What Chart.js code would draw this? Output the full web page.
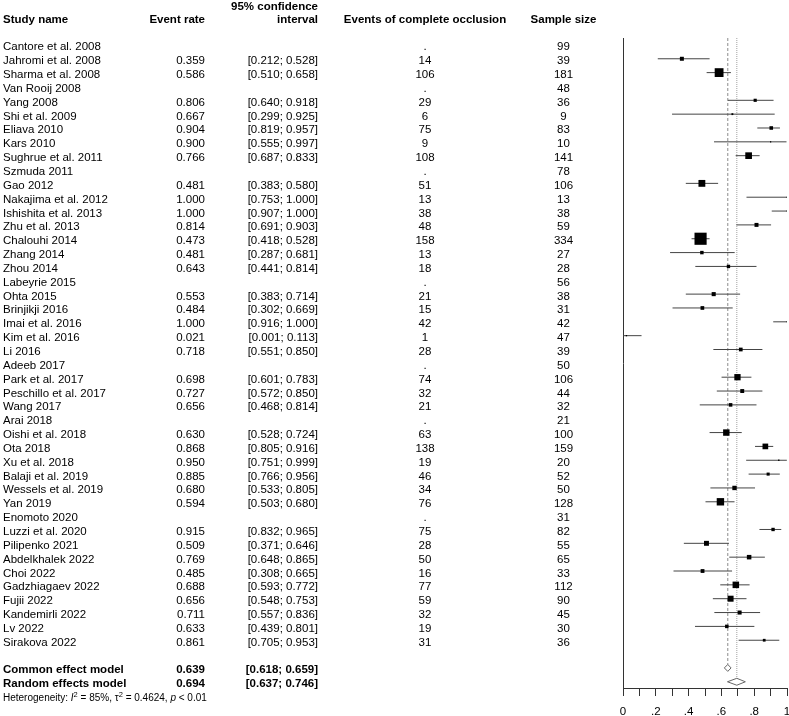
<!DOCTYPE html>
<html>
<head>
<meta charset="utf-8">
<title>Forest plot</title>
<script src="https://cdn.jsdelivr.net/npm/chart.js@4"></script>
<style>
  body { margin: 0; background: #fff; }
  #caixa { width: 789px; height: 716px; }
</style>
</head>
<body>
<div id="caixa"><canvas id="grafico" width="789" height="716"></canvas></div>
<script>
// Dados
const estudos = ['Cantore et al. 2008', 'Jahromi et al. 2008', 'Sharma et al. 2008', 'Van Rooij 2008', 'Yang 2008',
    'Shi et al. 2009', 'Eliava 2010', 'Kars 2010', 'Sughrue et al. 2011', 'Szmuda 2011', 'Gao 2012',
    'Nakajima et al. 2012', 'Ishishita et al. 2013', 'Zhu et al. 2013', 'Chalouhi 2014', 'Zhang 2014', 'Zhou 2014',
    'Labeyrie 2015', 'Ohta 2015', 'Brinjikji 2016', 'Imai et al. 2016', 'Kim et al. 2016', 'Li 2016', 'Adeeb 2017',
    'Park et al. 2017', 'Peschillo et al. 2017', 'Wang 2017', 'Arai 2018', 'Oishi et al. 2018', 'Ota 2018',
    'Xu et al. 2018', 'Balaji et al. 2019', 'Wessels et al. 2019', 'Yan 2019', 'Enomoto 2020', 'Luzzi et al. 2020',
    'Pilipenko 2021', 'Abdelkhalek 2022', 'Choi 2022', 'Gadzhiagaev 2022', 'Fujii 2022', 'Kandemirli 2022',
    'Lv 2022', 'Sirakova 2022'];
const taxas = [null, 0.359, 0.586, null, 0.806, 0.667, 0.904, 0.900, 0.766, null, 0.481, 1.000, 1.000, 0.814,
    0.473, 0.481, 0.643, null, 0.553, 0.484, 1.000, 0.021, 0.718, null, 0.698, 0.727, 0.656, null, 0.630, 0.868,
    0.950, 0.885, 0.680, 0.594, null, 0.915, 0.509, 0.769, 0.485, 0.688, 0.656, 0.711, 0.633, 0.861];
const icInf = [null, 0.212, 0.510, null, 0.640, 0.299, 0.819, 0.555, 0.687, null, 0.383, 0.753, 0.907, 0.691,
    0.418, 0.287, 0.441, null, 0.383, 0.302, 0.916, 0.001, 0.551, null, 0.601, 0.572, 0.468, null, 0.528, 0.805,
    0.751, 0.766, 0.533, 0.503, null, 0.832, 0.371, 0.648, 0.308, 0.593, 0.548, 0.557, 0.439, 0.705];
const icSup = [null, 0.528, 0.658, null, 0.918, 0.925, 0.957, 0.997, 0.833, null, 0.580, 1.000, 1.000, 0.903,
    0.528, 0.681, 0.814, null, 0.714, 0.669, 1.000, 0.113, 0.850, null, 0.783, 0.850, 0.814, null, 0.724, 0.916,
    0.999, 0.956, 0.805, 0.680, null, 0.965, 0.646, 0.865, 0.665, 0.772, 0.753, 0.836, 0.801, 0.953];
const eventos = [null, 14, 106, null, 29, 6, 75, 9, 108, null, 51, 13, 38, 48, 158, 13, 18, null, 21, 15, 42, 1,
    28, null, 74, 32, 21, null, 63, 138, 19, 46, 34, 76, null, 75, 28, 50, 16, 77, 59, 32, 19, 31];
const amostras = [99, 39, 181, 48, 36, 9, 83, 10, 141, 78, 106, 13, 38, 59, 334, 27, 28, 56, 38, 31, 42, 47, 39,
    50, 106, 44, 32, 21, 100, 159, 20, 52, 50, 128, 31, 82, 55, 65, 33, 112, 90, 45, 30, 36];

const modelos = ['Common effect model', 'Random effects model'];
const taxasModelo = [0.639, 0.694];
const icInfModelo = [0.618, 0.637];
const icSupModelo = [0.659, 0.746];
const heterogeneidade = ['85%', '0.4624', '< 0.01'];
const rotulosX = ['0', '.2', '.4', '.6', '.8', '1'];

const fonte = '"Liberation Sans", Arial, sans-serif';
const linhaModelo = estudos.length + 1; // linha em branco antes dos modelos

// Peso (inverso da variância) só para o tamanho dos quadrados
function peso(i) {
    const e = eventos[i], n = amostras[i];
    if (e === 0 || e === n) return (e + 0.5) * (n - e + 0.5) / (n + 1);
    return e * (n - e) / n;
}

// Pontos e intervalos
const pontos = [];
const intervalos = [];
taxas.forEach((t, i) => {
    if (t === null) return;
    pontos.push({ x: t, y: i, lado: 1.33 * Math.sqrt(peso(i)) });
    intervalos.push({ x: icInf[i], y: i }, { x: icSup[i], y: i }, { x: null, y: i });
});

// Losangos dos modelos
function losango(k) {
    const r = linhaModelo + k, h = 0.25;
    return [
        { x: icInfModelo[k], y: r }, { x: taxasModelo[k], y: r - h },
        { x: icSupModelo[k], y: r }, { x: taxasModelo[k], y: r + h },
        { x: icInfModelo[k], y: r }
    ];
}

function fmt(v) { return v.toFixed(3); }

// Textos das colunas
const textos = {
    id: 'textos',
    afterDraw(chart) {
        const ctx = chart.ctx;
        const y = chart.scales.y;
        ctx.save();
        ctx.fillStyle = '#000';
        ctx.textBaseline = 'alphabetic';

        ctx.font = 'bold 11.5px ' + fonte;
        ctx.textAlign = 'left';
        ctx.fillText('Study name', 3, 22.5);
        ctx.textAlign = 'right';
        ctx.fillText('Event rate', 205, 22.5);
        ctx.fillText('95% confidence', 318, 9.5);
        ctx.fillText('interval', 318, 22.5);
        ctx.textAlign = 'center';
        ctx.fillText('Events of complete occlusion', 425, 22.5);
        ctx.fillText('Sample size', 563.5, 22.5);

        ctx.font = '11.5px ' + fonte;
        estudos.forEach((nome, i) => {
            const py = y.getPixelForValue(i) + 5.5;
            ctx.textAlign = 'left';
            ctx.fillText(nome, 3, py);
            ctx.textAlign = 'right';
            if (taxas[i] !== null) {
                ctx.fillText(fmt(taxas[i]), 205, py);
                ctx.fillText('[' + fmt(icInf[i]) + '; ' + fmt(icSup[i]) + ']', 318, py);
            }
            ctx.textAlign = 'center';
            ctx.fillText(eventos[i] === null ? '.' : String(eventos[i]), 425, py);
            ctx.fillText(String(amostras[i]), 563.5, py);
        });

        ctx.font = 'bold 11.5px ' + fonte;
        modelos.forEach((nome, k) => {
            const py = y.getPixelForValue(linhaModelo + k) + 5.5;
            ctx.textAlign = 'left';
            ctx.fillText(nome, 3, py);
            ctx.textAlign = 'right';
            ctx.fillText(fmt(taxasModelo[k]), 205, py);
            ctx.fillText('[' + fmt(icInfModelo[k]) + '; ' + fmt(icSupModelo[k]) + ']', 318, py);
        });

        // Heterogeneidade com sobrescritos
        const partes = [
            ['Heterogeneity: ', ''], ['I', 'italic'], ['2', 'sup'], [' = ' + heterogeneidade[0] + ', \u03c4', ''],
            ['2', 'sup'], [' = ' + heterogeneidade[1] + ', ', ''], ['p', 'italic'], [' ' + heterogeneidade[2], '']
        ];
        let px = 3;
        const base = 701;
        ctx.textAlign = 'left';
        partes.forEach(([txt, estilo]) => {
            let by = base;
            if (estilo === 'italic') ctx.font = 'italic 10px ' + fonte;
            else if (estilo === 'sup') { ctx.font = '7.5px ' + fonte; by = base - 4.5; }
            else ctx.font = '10px ' + fonte;
            ctx.fillText(txt, px, by);
            px += ctx.measureText(txt).width;
        });
        ctx.restore();
    }
};

const ctx = document.getElementById('grafico').getContext('2d');
const grafico = new Chart(ctx, {
    type: 'scatter',
    data: {
        datasets: [
            {
                data: losango(0), showLine: true, fill: 'shape', backgroundColor: '#fff',
                borderColor: '#666', borderWidth: 1, pointRadius: 0, order: 1
            },
            {
                data: losango(1), showLine: true, fill: 'shape', backgroundColor: '#fff',
                borderColor: '#666', borderWidth: 1, pointRadius: 0, order: 1
            },
            {
                data: pontos, pointStyle: 'rect', backgroundColor: '#000', borderWidth: 0,
                pointRadius: c => c.raw ? c.raw.lado / Math.SQRT2 : 0, order: 2
            },
            {
                data: intervalos, showLine: true, spanGaps: false, borderColor: '#444',
                borderWidth: 1, pointRadius: 0, order: 3
            },
            {
                data: [{ x: taxasModelo[0], y: -0.5 }, { x: taxasModelo[0], y: linhaModelo - 0.25 }],
                showLine: true, borderColor: '#8a8a8a', borderWidth: 1, borderDash: [3, 2], pointRadius: 0, order: 4
            },
            {
                data: [{ x: taxasModelo[1], y: -0.5 }, { x: taxasModelo[1], y: linhaModelo + 0.75 }],
                showLine: true, borderColor: '#a0a0a0', borderWidth: 1, borderDash: [1, 1], pointRadius: 0, order: 4
            }
        ]
    },
    options: {
        responsive: false,
        animation: false,
        events: [],
        layout: { autoPadding: false, padding: { left: 623, right: 2, top: 38, bottom: 0 } },
        plugins: { legend: { display: false }, tooltip: { enabled: false } },
        scales: {
            x: {
                type: 'linear', min: 0, max: 1,
                afterFit: s => { s.height = 28; s.paddingLeft = 0; s.paddingRight = 0; },
                border: { display: true, color: '#333', width: 1 },
                grid: { drawOnChartArea: false, drawTicks: true, tickLength: 8, color: '#333' },
                ticks: {
                    stepSize: 0.1, autoSkip: false, maxRotation: 0, padding: 9, color: '#000',
                    font: { family: fonte, size: 11.5 },
                    callback: (v, i) => (i % 2 === 0 ? rotulosX[i / 2] : '')
                }
            },
            y: {
                type: 'linear', reverse: true, min: -0.5, max: 46.45,
                afterFit: s => { s.width = 0; s.paddingTop = 0; s.paddingBottom = 0; },
                border: { display: true, color: '#333', width: 1 },
                grid: { display: false },
                ticks: { display: false }
            }
        }
    },
    plugins: [textos]
});
</script>
</body>
</html>
